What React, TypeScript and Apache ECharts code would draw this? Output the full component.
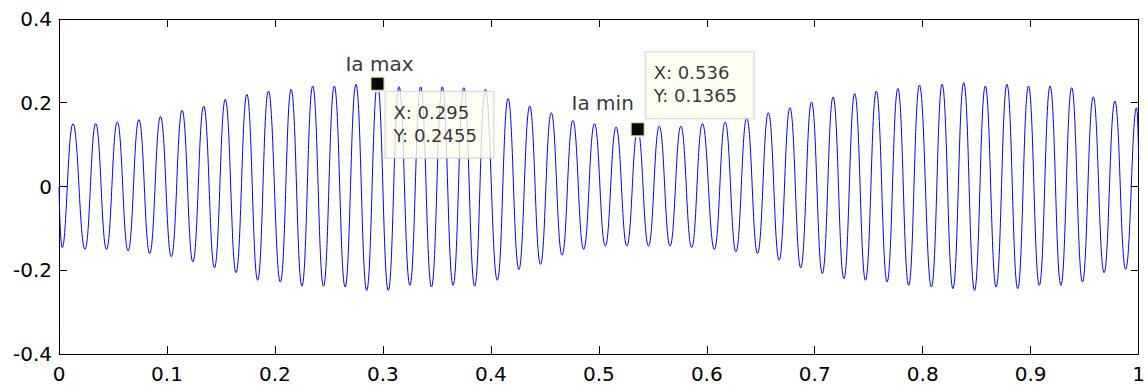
import React, { useEffect, useRef } from "react";
import * as echarts from "echarts";

// Times (s) and values of each positive peak of the waveform
const peakTimes = [
  0.013, 0.034, 0.054, 0.074, 0.094, 0.114, 0.134, 0.154, 0.174, 0.194,
  0.215, 0.235, 0.255, 0.275, 0.295, 0.315, 0.335, 0.355, 0.375, 0.395,
  0.416, 0.436, 0.456, 0.476, 0.496, 0.516, 0.536, 0.556, 0.576, 0.596,
  0.617, 0.637, 0.657, 0.677, 0.697, 0.717, 0.737, 0.757, 0.777, 0.797,
  0.818, 0.838, 0.858, 0.878, 0.898, 0.918, 0.938, 0.958, 0.978, 0.998,
];
const peakValues = [
  0.15, 0.15, 0.154, 0.16, 0.167, 0.182, 0.192, 0.208, 0.22, 0.228,
  0.232, 0.24, 0.24, 0.244, 0.2455, 0.238, 0.238, 0.238, 0.236, 0.232,
  0.21, 0.192, 0.176, 0.158, 0.15, 0.142, 0.1365, 0.144, 0.144, 0.15,
  0.154, 0.164, 0.176, 0.188, 0.202, 0.214, 0.222, 0.228, 0.234, 0.242,
  0.244, 0.248, 0.24, 0.244, 0.24, 0.24, 0.236, 0.214, 0.204, 0.188,
];
// Times and values of each negative trough
const troughTimes = [
  0.003, 0.024, 0.044, 0.064, 0.084, 0.104, 0.124, 0.144, 0.164, 0.184,
  0.205, 0.225, 0.245, 0.265, 0.285, 0.305, 0.325, 0.345, 0.365, 0.385,
  0.406, 0.426, 0.446, 0.466, 0.486, 0.506, 0.526, 0.546, 0.566, 0.586,
  0.607, 0.627, 0.647, 0.667, 0.687, 0.707, 0.727, 0.747, 0.767, 0.787,
  0.808, 0.828, 0.848, 0.868, 0.888, 0.908, 0.928, 0.948, 0.968, 0.988,
];
const troughValues = [
  -0.146, -0.15, -0.15, -0.154, -0.16, -0.168, -0.18, -0.194, -0.206, -0.224,
  -0.228, -0.238, -0.238, -0.24, -0.248, -0.248, -0.236, -0.24, -0.236, -0.238,
  -0.224, -0.198, -0.186, -0.164, -0.15, -0.142, -0.142, -0.142, -0.142, -0.146,
  -0.15, -0.156, -0.16, -0.176, -0.194, -0.208, -0.22, -0.224, -0.228, -0.236,
  -0.24, -0.244, -0.248, -0.24, -0.244, -0.236, -0.236, -0.228, -0.206, -0.198,
];
const startPoint = [0, 0];
const endPoint = [1, 0.064];

// Data-tip markers
const markerNames = ["Ia max", "Ia min"];
const markerX = [0.295, 0.536];
const markerY = [0.2455, 0.1365];

const FONT = "DejaVu Sans";

export default function App() {
  const ref = useRef<HTMLDivElement>(null);
  useEffect(() => {
    if (!ref.current) return;
    const chart = echarts.init(ref.current, null, { renderer: "svg" });

    const lineData: number[][] = [startPoint];
    for (let i = 0; i < peakTimes.length; i++) {
      lineData.push([troughTimes[i], troughValues[i]]);
      lineData.push([peakTimes[i], peakValues[i]]);
    }
    lineData.push(endPoint);

    const nameLabelPos = [
      [10, -12],
      [-27, -18],
    ];
    const tipPos = [
      [16, 16],
      [16, -69],
    ];

    const markerSymbol = {
      symbol: "rect",
      symbolSize: 14,
      itemStyle: { color: "#000", borderColor: "#FFFFE0", borderWidth: 2 },
    };

    const axisCommon = {
      type: "value" as const,
      axisLine: { show: true, onZero: false, lineStyle: { color: "#000", width: 1 } },
      axisTick: { show: true, inside: true, length: 8, lineStyle: { color: "#000" } },
      splitLine: { show: false },
    };

    chart.setOption({
      animation: false,
      backgroundColor: "#fff",
      grid: { left: 59, right: 9, top: 19, bottom: 31, containLabel: false },
      xAxis: [
        {
          ...axisCommon,
          position: "bottom",
          min: 0,
          max: 1,
          interval: 0.1,
          axisLabel: { color: "#000", fontSize: 20, fontFamily: FONT, margin: 10 },
        },
        {
          ...axisCommon,
          position: "top",
          min: 0,
          max: 1,
          interval: 0.1,
          axisLabel: { show: false },
        },
      ],
      yAxis: [
        {
          ...axisCommon,
          position: "left",
          min: -0.4,
          max: 0.4,
          interval: 0.2,
          axisLabel: { color: "#000", fontSize: 20, fontFamily: FONT, margin: 7 },
        },
        {
          ...axisCommon,
          position: "right",
          min: -0.4,
          max: 0.4,
          interval: 0.2,
          axisLabel: { show: false },
        },
      ],
      series: [
        {
          type: "line",
          data: lineData,
          xAxisIndex: 0,
          yAxisIndex: 0,
          showSymbol: false,
          smooth: 0.45,
          lineStyle: { color: "#0000FF", width: 1 },
          z: 2,
        },
        {
          type: "scatter",
          xAxisIndex: 0,
          yAxisIndex: 0,
          ...markerSymbol,
          z: 4,
          data: markerNames.map((n, i) => ({
            name: n,
            value: [markerX[i], markerY[i]],
            label: {
              show: true,
              position: nameLabelPos[i],
              align: "center",
              verticalAlign: "middle",
              formatter: "{b}",
              color: "#000",
              fontSize: 20,
              fontFamily: FONT,
            },
          })),
        },
        {
          type: "scatter",
          xAxisIndex: 0,
          yAxisIndex: 0,
          ...markerSymbol,
          z: 5,
          data: markerNames.map((n, i) => ({
            name: n + " tip",
            value: [markerX[i], markerY[i]],
            label: {
              show: true,
              position: tipPos[i],
              align: "left",
              verticalAlign: "top",
              formatter: (p: any) => `X: ${p.value[0]}\nY: ${p.value[1]}`,
              color: "#000",
              fontSize: 18,
              fontFamily: FONT,
              lineHeight: 23,
              backgroundColor: "#FFFFEE",
              borderColor: "#CCCCCC",
              borderWidth: 1,
              padding: [9, 10, 11, 8],
              width: 90,
            },
          })),
        },
      ],
    });
    return () => chart.dispose();
  }, []);

  return (
    <div
      ref={ref}
      style={{ position: "absolute", left: 0, top: 0, width: 1148, height: 385 }}
    />
  );
}
